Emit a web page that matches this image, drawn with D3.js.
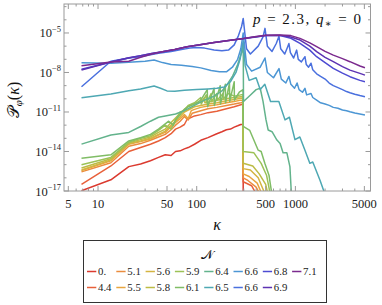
<!DOCTYPE html>
<html>
<head>
<meta charset="utf-8">
<script src="https://cdn.jsdelivr.net/npm/d3@7"></script>
<style>
  body { margin: 0; background: #fff; }
  svg { display: block; }
  svg text { font-family: 'Liberation Serif', 'DejaVu Serif', serif; }
</style>
</head>
<body>
<div id="chart"></div>
<script>
// N values (legend order, column-major) and colours
const nLabels = ['0.', '4.4', '5.1', '5.5', '5.6', '5.8', '5.9', '6.1', '6.4', '6.5', '6.6', '6.6', '6.8', '6.9', '7.1'];
const nColors = ['#db3a2f', '#e8603a', '#eb8c3e', '#e8a53f', '#d4b441', '#bcbc45', '#9cc257', '#80bd66',
                 '#63b38c', '#4ea8b3', '#4c96d4', '#4a70de', '#4d4bd2', '#5d33b3', '#7b2a8e'];

// spectra: [kappa, log10 P]
const s00 = [[6.8,-16.98],[13.5,-16.15],[20.5,-15.15],[27,-14.95],[34,-14.7],[41,-14.45],[48,-14.25],[55,-14.3],[61,-14.0],[68,-13.95],[75,-13.8],[82,-13.7],[95,-13.45],[110,-13.15],[130,-12.95],[160,-12.65],[180,-12.5],[200,-12.35],[220,-12.3],[240,-12.15],[260,-12.05],[280,-11.95],[295,-11.95],[296,-17.5]];
const s44 = [[6.8,-16.49],[13.5,-15.1],[20.5,-14.0],[27,-13.7],[34,-13.45],[41,-13.2],[48,-12.95],[55,-12.65],[61,-12.3],[68,-12.15],[75,-11.95],[80,-11.55],[95,-11.3],[110,-11.2],[130,-11.05],[160,-10.95],[200,-10.75],[240,-10.6],[280,-10.45],[295,-10.4],[296,-16.3],[360,-16.6],[420,-17.5]];
const s51 = [[6.8,-15.55],[13.5,-14.85],[20.5,-13.6],[27,-13.4],[34,-13.15],[41,-12.9],[48,-12.7],[55,-12.35],[61,-12.0],[68,-11.7],[75,-11.35],[82,-11.6],[90,-11.1],[110,-10.9],[130,-10.75],[160,-10.65],[200,-10.5],[240,-10.4],[280,-10.3],[295,-10.25],[296,-16.0],[330,-16.2],[400,-16.7],[455,-17.5]];
const s55 = [[6.8,-15.45],[13.5,-14.7],[20.5,-13.45],[27,-13.25],[34,-13.05],[41,-12.75],[48,-12.55],[55,-12.1],[61,-11.8],[68,-11.5],[75,-11.2],[82,-11.5],[88,-10.9],[95,-10.8],[110,-10.65],[130,-10.55],[160,-10.45],[200,-10.3],[240,-10.2],[280,-10.1],[295,-10.1],[296,-15.7],[340,-15.9],[410,-16.4],[475,-17.5]];
const s56 = [[6.8,-15.4],[13.5,-14.65],[20.5,-13.4],[27,-13.2],[34,-13.0],[41,-12.7],[48,-12.45],[55,-12.0],[61,-11.7],[68,-11.35],[75,-11.0],[82,-10.85],[95,-10.6],[110,-10.5],[130,-10.4],[160,-10.3],[200,-10.15],[240,-10.05],[280,-9.95],[295,-9.95],[296,-15.3],[350,-15.4],[420,-16.0],[510,-17.5]];
const s58 = [[6.8,-15.25],[13.5,-14.55],[20.5,-13.35],[27,-13.1],[34,-12.9],[41,-12.55],[48,-12.3],[55,-11.8],[61,-11.45],[68,-11.1],[75,-10.8],[82,-10.55],[95,-10.35],[110,-10.25],[120,-9.9],[121,-10.3],[140,-10.2],[160,-10.1],[200,-10.0],[240,-9.9],[280,-9.85],[295,-9.85],[296,-14.9],[370,-15.1],[430,-15.7],[500,-16.5],[535,-17.5]];
const s59 = [[6.8,-15.0],[13.5,-14.45],[20.5,-13.3],[27,-13.0],[34,-12.8],[41,-12.4],[48,-12.0],[55,-12.3],[61,-11.6],[68,-11.0],[75,-10.9],[82,-10.5],[95,-10.3],[110,-9.9],[111,-10.4],[125,-9.7],[126,-10.3],[140,-9.6],[141,-10.2],[160,-9.6],[161,-10.1],[185,-9.6],[186,-10.0],[210,-9.6],[240,-9.8],[280,-9.7],[295,-9.7],[296,-14.0],[380,-14.1],[450,-14.9],[510,-15.8],[565,-17.5]];
const s61 = [[6.8,-14.52],[13.5,-14.25],[20.5,-13.2],[27,-12.95],[34,-12.7],[41,-12.3],[48,-11.9],[52,-11.7],[58,-12.0],[61,-11.6],[68,-11.2],[75,-10.8],[82,-10.6],[95,-10.4],[110,-10.1],[128,-9.3],[129,-10.6],[150,-9.2],[151,-10.5],[173,-9.0],[174,-10.4],[195,-8.9],[196,-10.3],[215,-8.8],[216,-10.2],[240,-8.7],[241,-10.1],[270,-9.5],[295,-9.3],[296,-12.1],[345,-12.4],[420,-13.9],[450,-14.0],[490,-14.9],[540,-15.8],[585,-17.5]];
const s64 = [[6.8,-13.44],[13.5,-12.75],[20.5,-12.55],[27,-12.1],[34,-11.7],[41,-11.4],[48,-11.3],[61,-11.15],[75,-10.9],[95,-10.5],[120,-10.1],[150,-9.8],[180,-9.4],[200,-9.0],[230,-8.3],[260,-7.4],[285,-6.5],[296,-5.9],[298,-10.2],[340,-9.8],[400,-9.3],[440,-9.2],[470,-10.2],[504,-11.6],[530,-12.37],[580,-12.5],[650,-13.13],[700,-13.4],[750,-14.1],[820,-14.1],[880,-15.15],[915,-17.5]];
const s65 = [[6.8,-9.92],[13.5,-9.63],[20.5,-9.39],[27,-9.25],[37,-9.03],[43,-9.2],[50,-9.4],[60,-9.42],[75,-9.35],[100,-9.3],[130,-9.25],[160,-9.2],[190,-9.1],[220,-8.7],[250,-8.0],[275,-7.0],[296,-5.6],[310,-7.5],[340,-8.6],[400,-8.4],[440,-9.3],[490,-8.9],[560,-10.2],[680,-10.2],[785,-11.6],[870,-11.4],[990,-13.1],[1110,-12.9],[1250,-13.9],[1400,-14.9],[1500,-14.8],[1780,-16.2],[2050,-17.5]];
const s66a = [[6.8,-7.26],[13.5,-7.3],[20.5,-7.22],[30,-7.15],[37,-7.05],[45,-7.25],[55,-7.4],[70,-7.45],[90,-7.55],[110,-7.65],[140,-7.85],[170,-7.95],[200,-7.95],[230,-7.6],[260,-7.0],[280,-6.2],[296,-5.0],[320,-7.4],[360,-7.9],[440,-7.6],[492,-6.9],[520,-8.0],[600,-8.4],[682,-7.7],[720,-8.5],[800,-8.8],[860,-8.3],[900,-8.9],[980,-9.2],[1040,-8.8],[1090,-9.3],[1180,-9.5],[1250,-9.2],[1300,-9.7],[1440,-9.6],[1500,-9.9],[1642,-10.1],[1800,-10.3],[2000,-10.4],[2200,-10.5],[2422,-10.65],[2700,-10.72],[3000,-10.85],[3300,-10.9],[3574,-10.98],[4000,-11.08],[4500,-11.15],[5070,-11.23]];
const s66b = [[6.8,-9.08],[13.5,-7.15],[20.5,-6.9],[27,-6.8],[34,-6.65],[41,-6.55],[55,-6.4],[70,-6.25],[85,-6.15],[100,-6.1],[120,-6.15],[150,-6.3],[180,-6.35],[210,-6.3],[240,-5.9],[265,-5.2],[285,-4.5],[296,-3.9],[320,-6.2],[350,-6.6],[420,-6.0],[470,-5.3],[492,-4.65],[520,-6.0],[580,-6.4],[640,-5.8],[682,-5.25],[710,-6.2],[780,-6.6],[830,-6.1],[860,-5.8],[890,-6.5],[960,-6.9],[1030,-6.3],[1070,-7.0],[1150,-7.2],[1250,-6.8],[1290,-7.4],[1360,-7.6],[1440,-7.3],[1500,-7.8],[1642,-8.1],[1800,-8.3],[2000,-8.5],[2200,-8.8],[2422,-9.0],[2700,-9.15],[3000,-9.3],[3300,-9.45],[3574,-9.54],[4000,-9.65],[4500,-9.75],[5070,-9.84]];
const s68 = [[6.8,-7.75],[13.5,-7.2],[20.5,-6.9],[27,-6.72],[35,-6.55],[45,-6.42],[60,-6.25],[80,-6.05],[108,-5.9],[150,-5.72],[220,-5.55],[300,-5.42],[400,-5.3],[500,-5.2],[700,-5.2],[900,-5.4],[1114,-5.79],[1400,-6.3],[1642,-6.8],[2000,-7.25],[2422,-7.69],[3000,-8.05],[3574,-8.32],[4510,-8.6],[5070,-8.7]];
const s69 = [[6.8,-7.81],[13.5,-7.2],[20.5,-6.88],[27,-6.72],[35,-6.55],[45,-6.42],[60,-6.25],[80,-6.05],[108,-5.9],[150,-5.72],[220,-5.55],[300,-5.42],[400,-5.28],[500,-5.2],[700,-5.17],[900,-5.3],[1114,-5.54],[1400,-6.0],[1642,-6.42],[2000,-6.85],[2422,-7.18],[3000,-7.55],[3574,-7.82],[4510,-8.07],[5070,-8.2]];
const s71 = [[6.8,-7.49],[13.5,-7.2],[20.5,-7.15],[27,-6.85],[35,-6.6],[45,-6.42],[60,-6.25],[80,-6.05],[108,-5.9],[150,-5.72],[220,-5.55],[300,-5.42],[400,-5.26],[500,-5.18],[700,-5.15],[900,-5.2],[1114,-5.41],[1400,-5.75],[1642,-6.04],[2000,-6.4],[2422,-6.68],[3000,-6.95],[3574,-7.18],[4510,-7.51],[5070,-7.64]];

const seriesData = [s00, s44, s51, s55, s56, s58, s59, s61, s64, s65, s66a, s66b, s68, s69, s71];

const yLabelExps = [-5, -8, -11, -14, -17];
const xLabelVals = [5, 10, 50, 100, 500, 1000, 5000];

(() => {
  const W = 382, H = 305;
  const left = 64, right = 370.5, top = 4, bottom = 191;
  const frameColor = '#9a9a9a';
  const serif = "'Liberation Serif', 'DejaVu Serif', serif";

  const svg = d3.select('#chart').append('svg')
    .attr('width', W).attr('height', H)
    .attr('font-family', serif);

  const x = d3.scaleLog().domain([4.52, 5770]).range([left, right]);
  const y = d3.scaleLog().domain([1e-17, Math.pow(10, -2.8)]).range([bottom, top]);

  svg.append('clipPath').attr('id', 'plot-clip')
    .append('rect').attr('x', left).attr('y', top)
    .attr('width', right - left).attr('height', bottom - top);

  // Lines
  const line = d3.line()
    .x(d => x(d[0]))
    .y(d => y(Math.pow(10, d[1])));

  const g = svg.append('g').attr('clip-path', 'url(#plot-clip)');
  seriesData.forEach((s, i) => {
    g.append('path')
      .attr('d', line(s))
      .attr('fill', 'none')
      .attr('stroke', nColors[i])
      .attr('stroke-width', 1.5)
      .attr('stroke-linejoin', 'round');
  });

  // Frame
  svg.append('rect')
    .attr('x', left).attr('y', top)
    .attr('width', right - left).attr('height', bottom - top)
    .attr('fill', 'none').attr('stroke', frameColor).attr('stroke-width', 1);

  // X ticks
  const xt = x.ticks().filter(v => v >= 4.52 && v <= 5770);
  xt.forEach(v => {
    const major = xLabelVals.some(m => Math.abs(m - v) < 1e-9);
    const len = major ? 5 : 2.5;
    const px = x(v);
    svg.append('line').attr('x1', px).attr('x2', px).attr('y1', bottom).attr('y2', bottom - len)
      .attr('stroke', frameColor);
    svg.append('line').attr('x1', px).attr('x2', px).attr('y1', top).attr('y2', top + len)
      .attr('stroke', frameColor);
  });
  xLabelVals.forEach(v => {
    svg.append('text')
      .attr('x', x(v)).attr('y', 207.5)
      .attr('text-anchor', 'middle')
      .attr('font-family', serif)
      .attr('font-size', 12.5)
      .attr('fill', '#222')
      .text(v);
  });

  // Y ticks
  d3.range(-17, -2).forEach(e => {
    const major = yLabelExps.includes(e);
    const len = major ? 5 : 2.5;
    const py = y(Math.pow(10, e));
    svg.append('line').attr('x1', left).attr('x2', left + len).attr('y1', py).attr('y2', py)
      .attr('stroke', frameColor);
    svg.append('line').attr('x1', right).attr('x2', right - len).attr('y1', py).attr('y2', py)
      .attr('stroke', frameColor);
  });
  yLabelExps.forEach(e => {
    const t = svg.append('text')
      .attr('x', 61).attr('y', y(Math.pow(10, e)) + 4.5)
      .attr('text-anchor', 'end')
      .attr('font-family', serif)
      .attr('font-size', 12.5)
      .attr('fill', '#222');
    t.append('tspan').text('10');
    t.append('tspan').attr('font-size', 8.5).attr('dy', -5.5).text('\u2212' + (-e));
  });

  // Title
  const title = svg.append('text')
    .attr('x', 253).attr('y', 24)
    .attr('font-family', serif)
    .attr('font-size', 15)
    .attr('fill', '#111')
    .attr('textLength', 108)
    .attr('lengthAdjust', 'spacing');
  title.append('tspan').attr('font-style', 'italic').text('p');
  title.append('tspan').text(' = 2.3, ');
  title.append('tspan').attr('font-style', 'italic').text('q');
  title.append('tspan').attr('font-size', 10).attr('dy', 3).text('\u2217');
  title.append('tspan').attr('dy', -3).text(' = 0');

  // Axis labels
  svg.append('text')
    .attr('x', 217).attr('y', 230)
    .attr('text-anchor', 'middle')
    .attr('font-family', serif)
    .attr('font-size', 16)
    .attr('font-style', 'italic')
    .attr('fill', '#111')
    .text('\u03BA');

  const yl = svg.append('text')
    .attr('transform', 'translate(19,100) rotate(-90)')
    .attr('text-anchor', 'middle')
    .attr('font-family', serif)
    .attr('font-size', 16)
    .attr('fill', '#111');
  yl.append('tspan').text('\uD835\uDCAB');
  yl.append('tspan').attr('font-size', 11).attr('font-style', 'italic').attr('dy', 3).text('\u03C6');
  yl.append('tspan').attr('dy', -3).text('(');
  yl.append('tspan').attr('font-style', 'italic').text('\u03BA');
  yl.append('tspan').text(')');

  // Legend
  const lg = svg.append('g');
  lg.append('rect')
    .attr('x', 83.5).attr('y', 240.5).attr('width', 243).attr('height', 62)
    .attr('fill', '#fff').attr('stroke', '#333').attr('stroke-width', 1);
  lg.append('text')
    .attr('x', 207).attr('y', 258.5)
    .attr('text-anchor', 'middle')
    .attr('font-family', serif)
    .attr('font-size', 13)
    .attr('fill', '#111')
    .text('\uD835\uDCA9');

  nLabels.forEach((lab, i) => {
    const col = Math.floor(i / 2), row = i % 2;
    const lx = 87 + col * 29.3;
    const ly = row === 0 ? 271.5 : 287.5;
    lg.append('line')
      .attr('x1', lx).attr('x2', lx + 9.3)
      .attr('y1', ly).attr('y2', ly)
      .attr('stroke', nColors[i]).attr('stroke-width', 1.5);
    lg.append('text')
      .attr('x', lx + 11).attr('y', ly + 3.7)
      .attr('font-family', serif)
      .attr('font-size', 10.8)
      .attr('fill', '#222')
      .text(lab);
  });
})();
</script>
</body>
</html>
